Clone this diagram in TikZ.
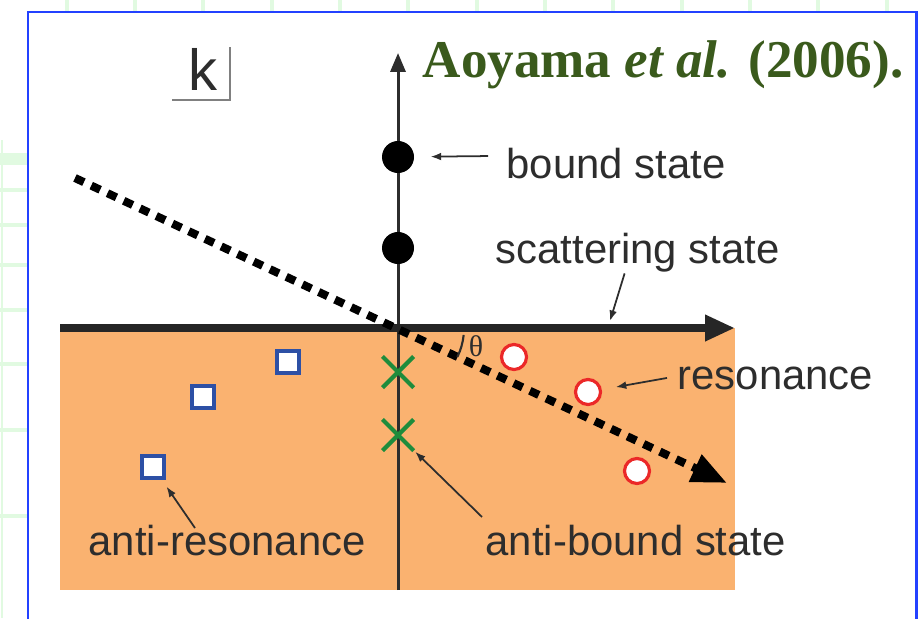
\documentclass[tikz,border=0pt]{standalone}
\usepackage{fontspec}
\setmainfont{Liberation Serif}
\setsansfont{Liberation Sans}
\usetikzlibrary{arrows.meta,shapes.misc}

\definecolor{titlegreen}{RGB}{58,90,28}
\definecolor{slideblue}{RGB}{35,65,255}
\definecolor{gridgreen}{RGB}{225,250,225}
\definecolor{planeorange}{RGB}{250,178,112}
\definecolor{labelgray}{RGB}{45,45,45}
\definecolor{crossgreen}{RGB}{30,140,60}
\definecolor{squareblue}{RGB}{45,80,165}
\definecolor{circlered}{RGB}{235,40,40}

\begin{document}
\begin{tikzpicture}[x=0.01cm, y=-0.01cm,
    lbl/.style={font=\sffamily\fontsize{11.9}{14}\selectfont, text=labelgray, inner sep=0pt, anchor=base west},
    pointer/.style={draw=labelgray, line width=0.5pt, -{Latex[length=3pt,width=2.2pt]}},
    bound/.style={circle, fill=black, inner sep=0pt, minimum size=0.32cm},
    res/.style={circle, draw=circlered, fill=white, line width=0.9pt, inner sep=0pt, minimum size=0.25cm},
    antires/.style={rectangle, draw=squareblue, fill=white, line width=0.9pt, inner sep=0pt, minimum size=0.22cm},
    antibound/.style={cross out, draw=crossgreen, line width=1.2pt, inner sep=0pt, minimum size=0.27cm}]
    \useasboundingbox (0,0) rectangle (919,618);
    % slide background
    \foreach \gx in {67,135,203,272,340,408,477,545,613,682,750,818,887}
        \draw[gridgreen, line width=1.4pt] (\gx,0) -- (\gx,11);
    \foreach \gy in {190,225,265,310,364,430,516}
        \draw[gridgreen, line width=1.4pt] (0,\gy) -- (27,\gy);
    \fill[gridgreen] (0,153) rectangle (27,165);
    \draw[gridgreen, line width=0.8pt] (2,140) -- (2,618);
    \draw[slideblue, line width=0.85pt] (28,640) -- (28,12) -- (916,12) -- (916,640);
    % lower half plane
    \fill[planeorange] (60,328) rectangle (735,590);
    \coordinate (O) at (398,328);
    \draw[labelgray, line width=0.85pt, -{Triangle[length=5.4pt,width=4.3pt]}] (398,590) -- (398,53);
    \draw[black!85, line width=2.3pt, -{Triangle[length=8.5pt,width=7pt]}] (60,328) -- (735,328);
    \draw[black, line width=2.3pt, dash pattern=on 2.8pt off 2.3pt, -{Triangle[length=10pt,width=8pt]}] (75,178) -- (727,483);
    \draw[labelgray, line width=0.6pt] (O) ++(-6:0.66cm) arc[start angle=-6, end angle=-26, radius=0.66cm];
    \node[font=\fontsize{8.5}{10}\selectfont, text=labelgray, inner sep=0pt] (theta) at (476,346) {θ};
    % k label
    \node[font=\sffamily\fontsize{16.5}{18}\selectfont, text=labelgray, inner sep=0pt, anchor=base west] (k) at (188,90) {k};
    \draw[gray, line width=0.6pt] (172,100) -| (230,47);
    % title
    \node[font=\bfseries\fontsize{15.1}{18}\selectfont, text=titlegreen, inner sep=0pt, anchor=base west] (title) at (422,77) {Aoyama \textit{et al.} (2006).};
    % poles
    \node[bound] (b1) at (398,157) {};
    \node[bound] (b2) at (398,248) {};
    \node[antibound] (ab1) at (398,372) {};
    \node[antibound] (ab2) at (398,435) {};
    \node[res] (r1) at (514,357) {};
    \node[res] (r2) at (588,392) {};
    \node[res] (r3) at (637,471) {};
    \node[antires] (ar1) at (288,362) {};
    \node[antires] (ar2) at (203,397) {};
    \node[antires] (ar3) at (153,467) {};
    % labels
    \node[lbl] (boundlbl) at (506,178) {bound state};
    \node[lbl] (scatlbl) at (495,263) {scattering state};
    \node[lbl] (reslbl) at (677,389) {resonance};
    \node[lbl] (ablbl) at (485,555) {anti-bound state};
    \node[lbl] (arlbl) at (88,555) {anti-resonance};
    \coordinate (scat) at (610,321);
    \coordinate (arfoot) at (195,528);
    \draw[pointer, shorten >=4.5pt] ([shift={(-18,-7)}]boundlbl.west) -- (b1);
    \draw[pointer] ([shift={(-13,1)}]scatlbl.south) -- (scat);
    \draw[pointer, shorten >=4pt] ([shift={(-10,0)}]reslbl.west) -- (r2);
    \draw[pointer, shorten >=0.6pt] ([shift={(-3,-7)}]ablbl.north west) -- (ab2);
    \draw[pointer, shorten >=2.4pt] (arfoot) -- (ar3);
\end{tikzpicture}
\end{document}
